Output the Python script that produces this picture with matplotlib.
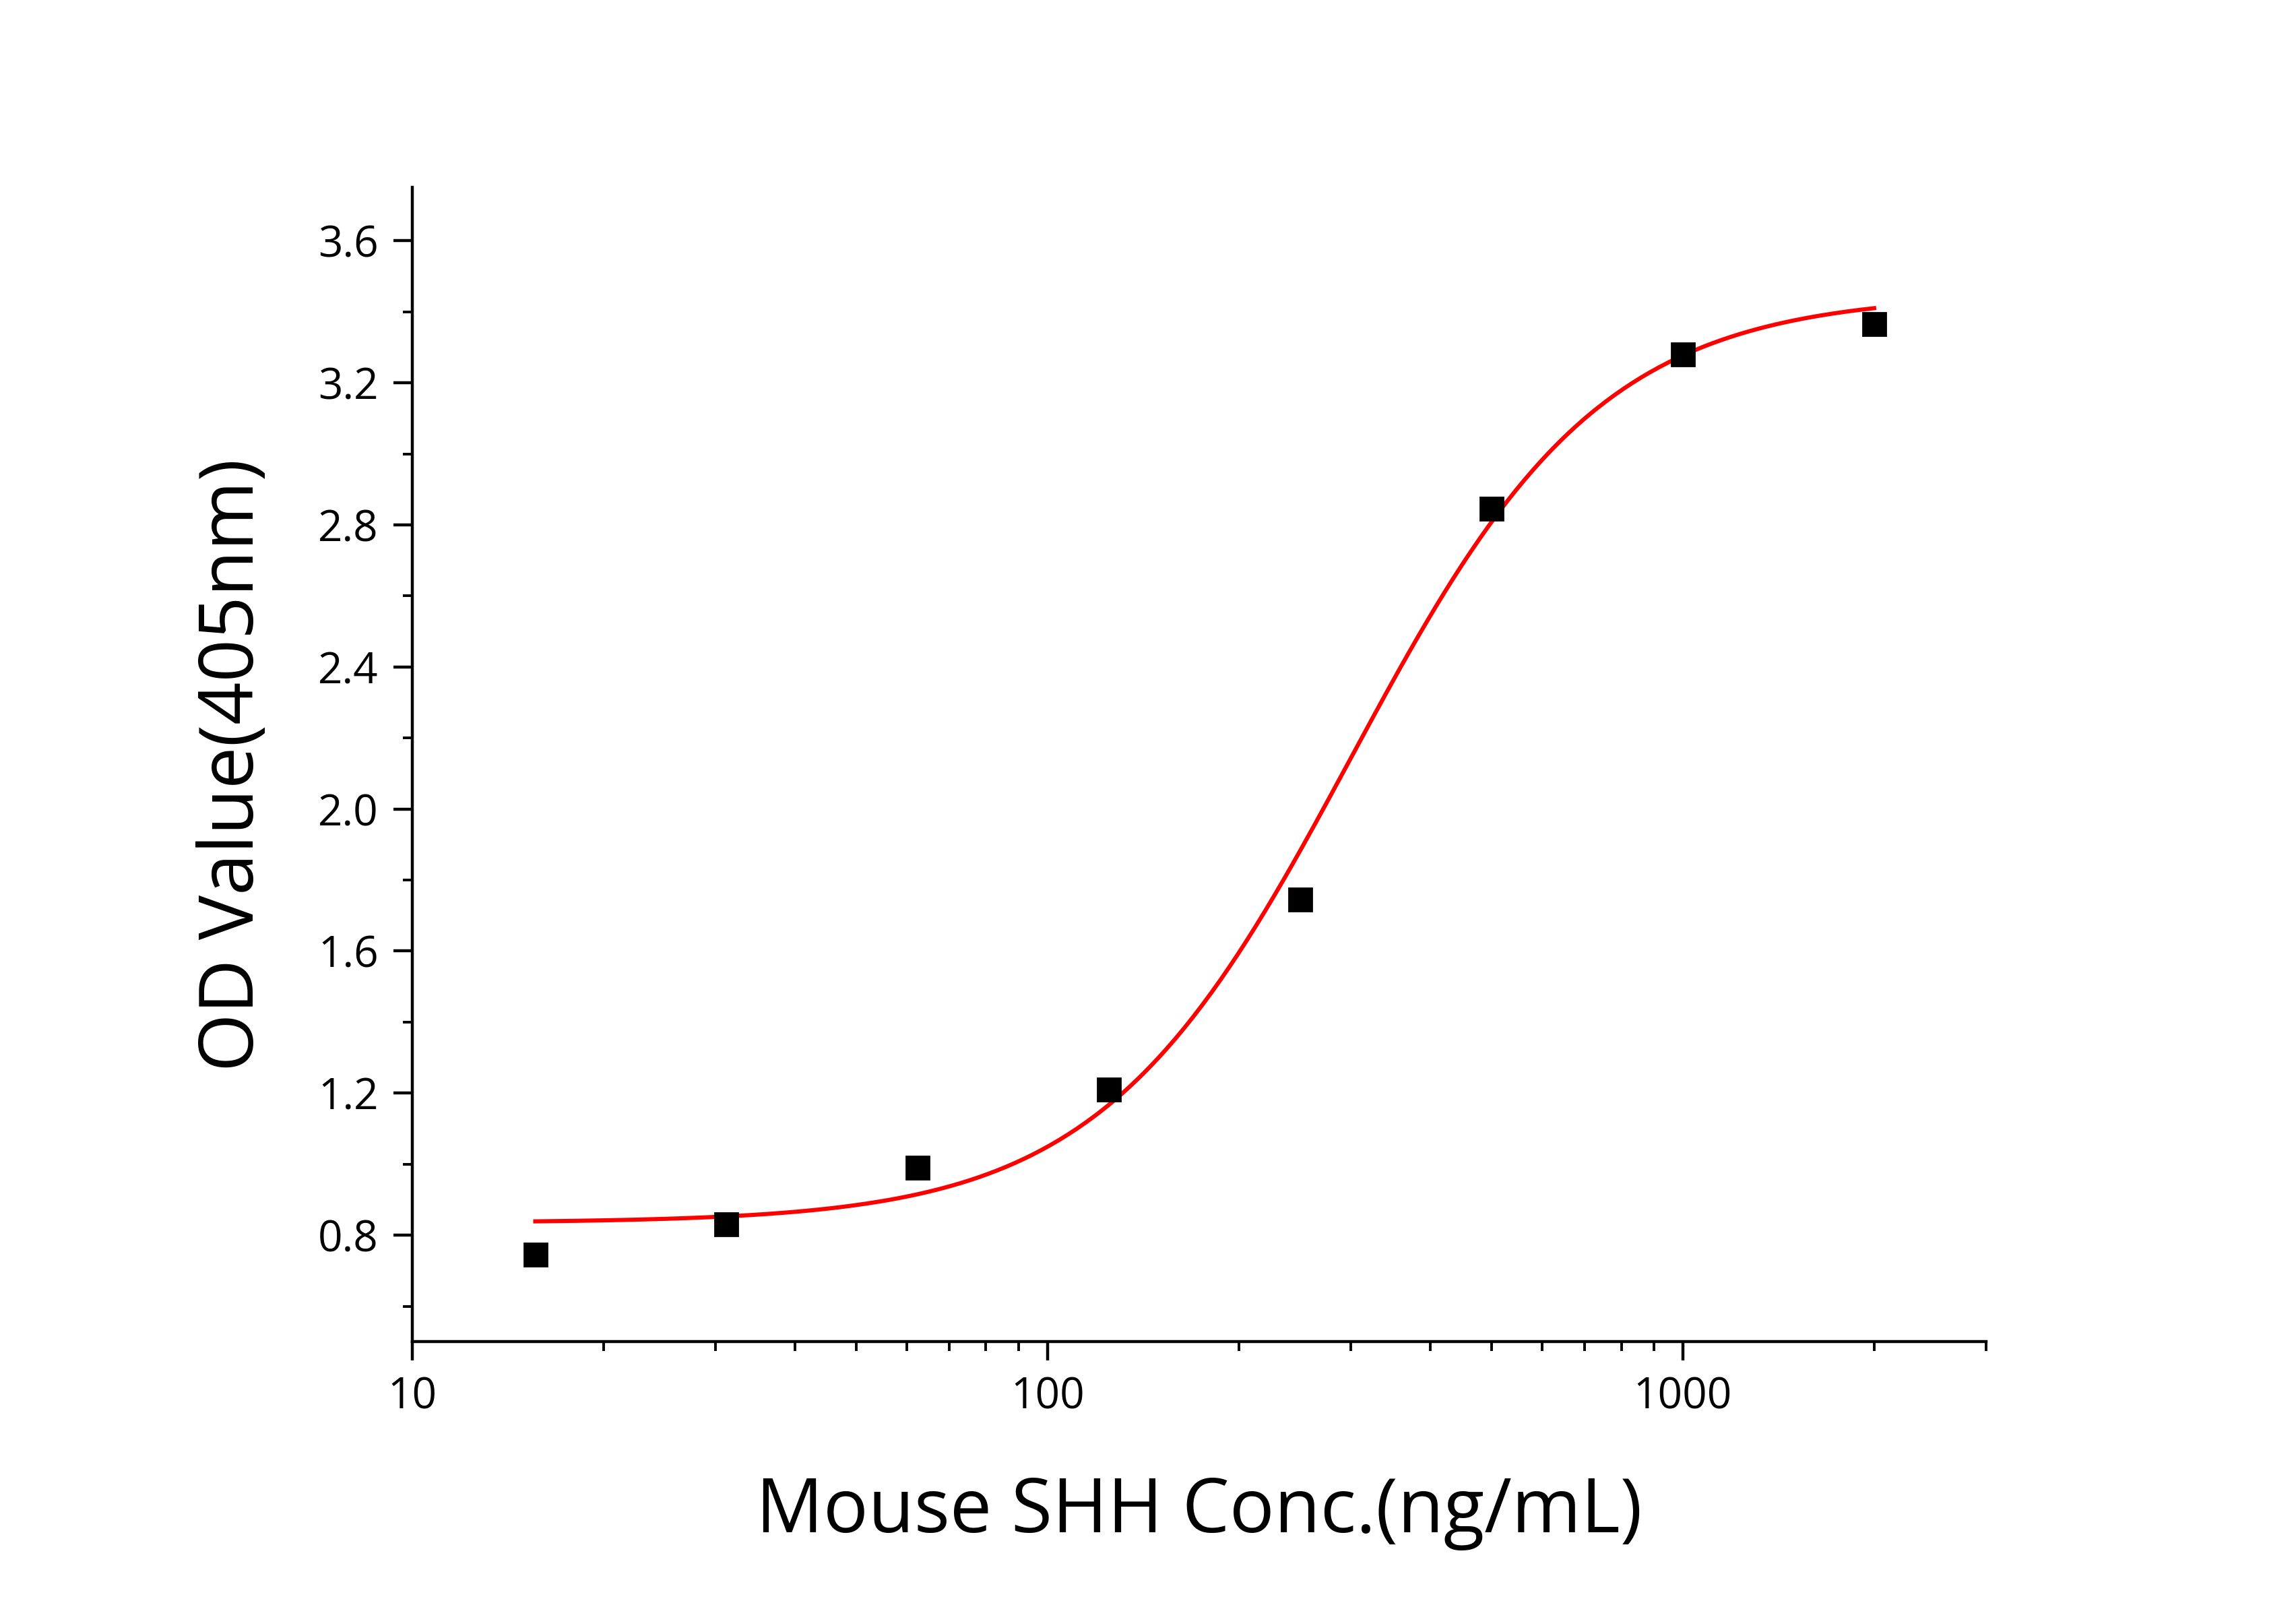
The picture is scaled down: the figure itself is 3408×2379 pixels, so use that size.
import numpy as np
import matplotlib.pyplot as plt
from matplotlib.ticker import FixedLocator, NullFormatter, LogLocator

plt.rcParams['font.family'] = ['Open Sans', 'DejaVu Sans']

# measured points
conc = [15.625, 31.25, 62.5, 125, 250, 500, 1000, 2000]
od = [0.745, 0.83, 0.99, 1.21, 1.745, 2.845, 3.28, 3.365]

# 4PL fit parameters
bottom, top, ec50, hill = 0.835, 3.45, 300.0, 2.2

xfit = np.logspace(np.log10(conc[0]), np.log10(conc[-1]), 300)
yfit = bottom + (top - bottom) / (1 + (ec50 / xfit) ** hill)

fig = plt.figure(figsize=(17.04, 11.895), dpi=200)
ax = fig.add_axes([0.1795, 0.163, 0.6855, 0.72])
ax.plot(xfit, yfit, color='red', linewidth=2.2)
ax.plot(conc, od, 's', color='black', markersize=12)

ax.set_xscale('log')
ax.set_xlim(10, 3000)
ax.set_ylim(0.5, 3.75)
ax.set_xticks([10, 100, 1000])
ax.set_xticklabels(['10', '100', '1000'])
ax.xaxis.set_minor_locator(LogLocator(base=10, subs=np.arange(2, 10)))
ax.xaxis.set_minor_formatter(NullFormatter())
ax.set_yticks([0.8, 1.2, 1.6, 2.0, 2.4, 2.8, 3.2, 3.6])
ax.yaxis.set_minor_locator(FixedLocator(np.arange(0.6, 3.75, 0.4)))

for s in ['top', 'right']:
    ax.spines[s].set_visible(False)
for s in ['left', 'bottom']:
    ax.spines[s].set_linewidth(1.6)
ax.tick_params(which='major', direction='out', length=10, width=1.6, labelsize=23, pad=8)
ax.tick_params(which='minor', direction='out', length=5, width=1.4)

ax.set_xlabel('Mouse SHH Conc.(ng/mL)', fontsize=40, labelpad=30)
ax.set_ylabel('OD Value(405nm)', fontsize=40, labelpad=25)

fig.savefig('out.png', dpi=200)
